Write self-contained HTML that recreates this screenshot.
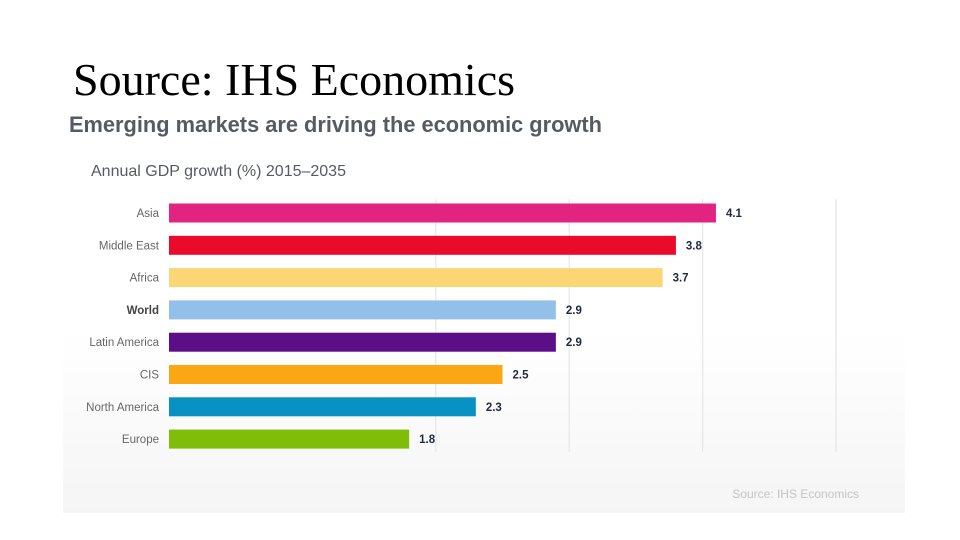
<!DOCTYPE html>
<html><head><meta charset="utf-8"><style>
body{margin:0;background:#fff;width:960px;height:540px;overflow:hidden;position:relative;font-family:"Liberation Sans",sans-serif}
#panel{position:absolute;left:63px;top:104px;width:842px;height:409px;background:linear-gradient(#fff 0%,#fff 55%,#f5f5f5 100%)}
#bigtitle{position:absolute;left:73px;top:54px;font-family:"Liberation Serif",serif;font-size:46px;color:#000;line-height:52px}
</style></head><body>
<div id="panel"></div>
<div id="bigtitle">Source: IHS Economics</div>
<svg id="chart" width="960" height="540" style="position:absolute;left:0;top:0">
<text x="69" y="132" font-size="21.8" font-weight="bold" fill="#555b61">Emerging markets are driving the economic growth</text>
<text x="91" y="176" font-size="16" fill="#555b61">Annual GDP growth (%) 2015–2035</text>
<text x="859" y="498" font-size="12" fill="#c4c4c4" text-anchor="end">Source: IHS Economics</text>
<g id="grid"></g><g id="bars"></g>
</svg>
<script>
const categories=["Asia","Middle East","Africa","World","Latin America","CIS","North America","Europe"];
const values=[4.1,3.8,3.7,2.9,2.9,2.5,2.3,1.8];
const colors=["#e2237f","#ea0a2a","#fad674","#93c0e9","#5c0d88","#fba614","#0892c3","#7fbd08"];
const gridTicks=[2,3,4,5];
const ns="http://www.w3.org/2000/svg";
const x=v=>169+v*133.4;
const y=i=>213+i*32.3;
const grid=document.getElementById('grid'),bars=document.getElementById('bars');
gridTicks.forEach(t=>{
 const l=document.createElementNS(ns,'line');
 l.setAttribute('x1',x(t));l.setAttribute('x2',x(t));l.setAttribute('y1',199);l.setAttribute('y2',452);
 l.setAttribute('stroke','#e6e6e6');l.setAttribute('stroke-width','1.2');
 
 
 grid.appendChild(l);
});
categories.forEach((c,i)=>{
 const r=document.createElementNS(ns,'rect');
 r.setAttribute('x',x(0));r.setAttribute('y',y(i)-9.5);r.setAttribute('width',x(values[i])-x(0));r.setAttribute('height',19);r.setAttribute('fill',colors[i]);
 
 
 bars.appendChild(r);
 const lb=document.createElementNS(ns,'text');
 lb.setAttribute('x',159);lb.setAttribute('y',y(i)+4);lb.setAttribute('text-anchor','end');lb.setAttribute('font-size','11.5');
 lb.setAttribute('fill',c==="World"?'#444':'#666');if(c==="World")lb.setAttribute('font-weight','bold');
 lb.textContent=c;
 
 
 bars.appendChild(lb);
 const v=document.createElementNS(ns,'text');
 v.setAttribute('x',x(values[i])+10);v.setAttribute('y',y(i)+4);v.setAttribute('font-size','11.5');v.setAttribute('font-weight','bold');v.setAttribute('fill','#1f2a3c');
 v.textContent=values[i].toFixed(1);
 
 
 bars.appendChild(v);
});
</script>
</body></html>
